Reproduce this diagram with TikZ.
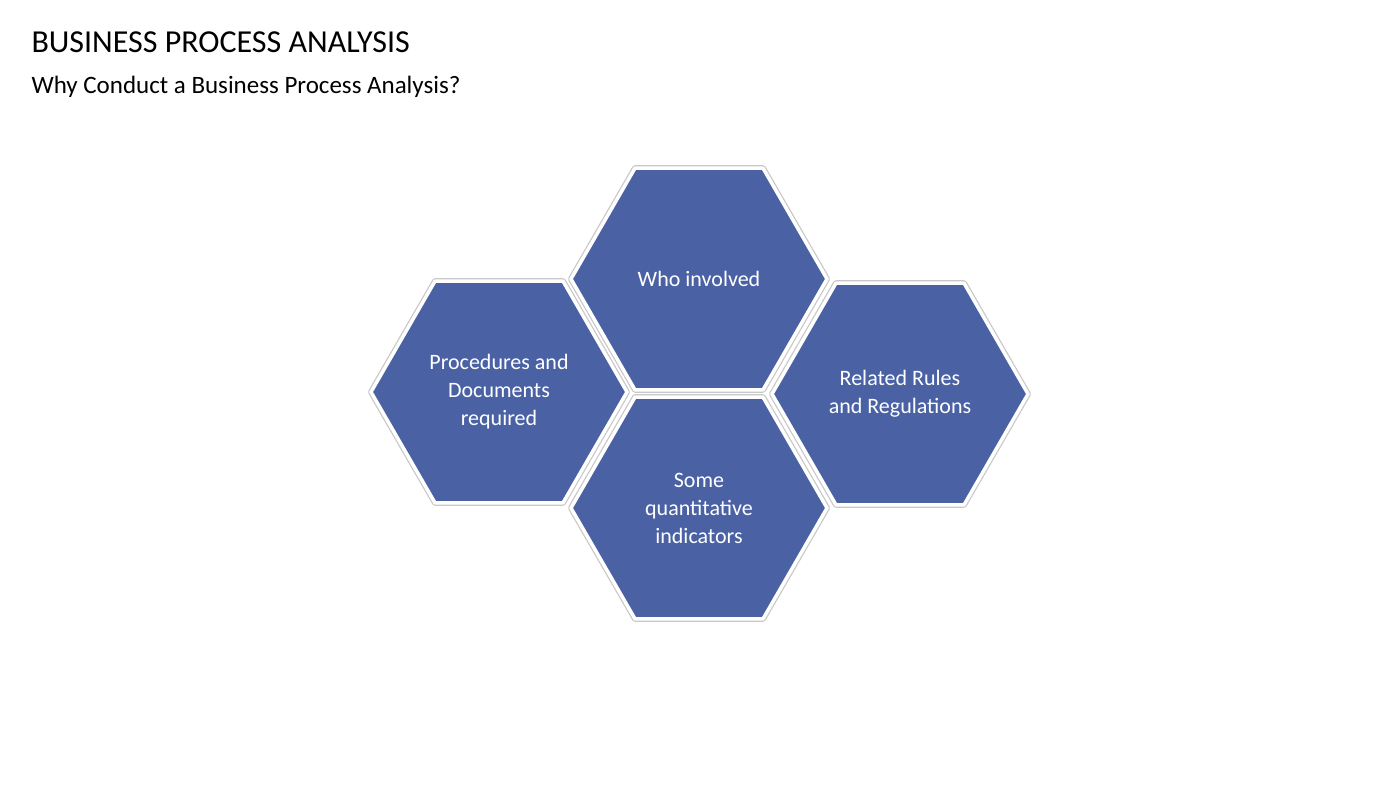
\documentclass[tikz,border=0pt]{standalone}
\usepackage{fontspec}
\setmainfont{Carlito}
\definecolor{hexblue}{HTML}{4A61A4}
\definecolor{hexshadow}{HTML}{C8C8C8}
\tikzset{hextext/.style={text=white,font=\fontsize{22}{28}\selectfont,align=center}}
\newcommand{\myhex}[4]{%
  \draw[hexshadow,line width=6pt,line join=round] (#2+128pt,#3) -- ++(-64pt,110.85pt) -- ++(-128pt,0) -- ++(-64pt,-110.85pt) -- ++(64pt,-110.85pt) -- ++(128pt,0) -- cycle;
  \draw[white,line width=3.5pt,fill=hexblue,line join=round] (#2+128pt,#3) -- ++(-64pt,110.85pt) -- ++(-128pt,0) -- ++(-64pt,-110.85pt) -- ++(64pt,-110.85pt) -- ++(128pt,0) -- cycle;
  \node[hextext] (#1) at (#2,#3) {#4};}
\begin{document}
\begin{tikzpicture}[x=1pt,y=1pt]
\useasboundingbox (0,0) rectangle (1400,788);
\node[anchor=west,font=\fontsize{32}{36}\selectfont] (title) at (28,746) {BUSINESS PROCESS ANALYSIS};
\node[anchor=west,font=\fontsize{25}{30}\selectfont] (sub) at (28,701) {Why Conduct a Business Process Analysis?};
\myhex{who}{699}{509}{Who involved}
\myhex{proc}{499}{396}{Procedures and\\Documents\\required}
\myhex{rules}{900}{394}{Related Rules\\and Regulations}
\myhex{quant}{699}{280}{Some\\quantitative\\indicators}
\end{tikzpicture}
\end{document}
